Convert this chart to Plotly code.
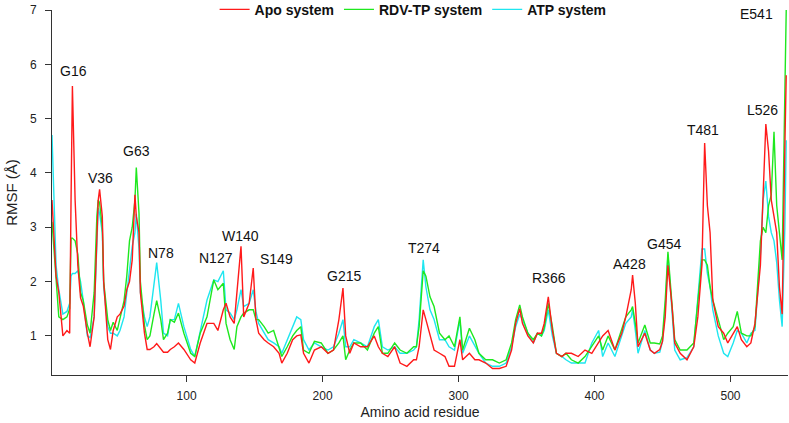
import plotly.graph_objects as go

# Residue numbers at which values were read
residues = [1, 4, 6, 9, 12, 14, 15, 16, 18, 20, 22, 24, 27, 29, 32, 34, 35, 36, 38, 39,
            42, 44, 46, 49, 51, 54, 56, 58, 60, 62, 63, 65, 66, 69, 71, 73, 76, 78, 81, 83,
            86, 88, 91, 94, 98, 103, 106, 110, 115, 120, 123, 127, 129, 132, 135, 137, 140, 142, 146, 149,
            151, 153, 157, 160, 164, 168, 170, 174, 178, 181, 184, 186, 190, 194, 199, 204, 208, 212, 215, 217,
            220, 223, 228, 233, 238, 241, 244, 248, 253, 257, 262, 267, 269, 271, 274, 276, 279, 282, 286, 290,
            293, 297, 301, 303, 308, 312, 315, 320, 325, 330, 335, 339, 342, 345, 347, 351, 355, 358, 361, 363,
            366, 369, 372, 376, 379, 383, 388, 393, 398, 403, 406, 410, 415, 420, 423, 427, 428, 430, 432, 437,
            441, 444, 448, 450, 452, 454, 457, 459, 463, 468, 473, 476, 479, 481, 483, 485, 487, 491, 495, 498,
            502, 505, 508, 512, 515, 518, 522, 524, 526, 528, 530, 532, 534, 536, 538, 540, 541]

apo = [3.5, 2.1, 1.8, 1.0, 1.1, 1.05, 3.5, 5.6, 3.5, 2.3, 1.7, 1.55, 1.05, 0.8, 1.35, 2.9, 3.5, 3.7, 3.2, 2.0,
       0.93, 0.75, 1.1, 1.35, 1.4, 1.55, 1.85, 2.0, 2.4, 3.6, 3.2, 2.9, 1.8, 1.05, 0.75, 0.75, 0.8, 0.86, 0.75, 0.7,
       0.7, 0.75, 0.8, 0.87, 0.75, 0.56, 0.5, 0.87, 1.23, 1.23, 1.1, 1.48, 1.6, 1.35, 1.23, 1.85, 2.65, 1.35, 1.6, 2.25,
       1.3, 1.05, 0.93, 0.87, 0.8, 0.68, 0.5, 0.68, 0.93, 1.0, 1.02, 0.68, 0.5, 0.74, 0.8, 0.68, 0.74, 1.3, 1.88, 1.0,
       0.68, 0.87, 0.8, 0.8, 1.0, 0.8, 0.68, 0.62, 0.8, 0.5, 0.44, 0.56, 0.56, 0.8, 1.48, 1.3, 1.0, 0.74, 0.68, 0.62,
       0.44, 0.44, 0.93, 0.56, 0.68, 0.56, 0.56, 0.5, 0.4, 0.4, 0.44, 0.74, 1.23, 1.5, 1.23, 1.0, 0.87, 1.05, 1.05, 1.23,
       1.72, 1.1, 0.68, 0.62, 0.68, 0.68, 0.62, 0.74, 0.68, 0.87, 1.0, 1.1, 0.74, 1.05, 1.35, 1.85, 2.12, 1.6, 0.8, 1.05,
       0.74, 0.68, 0.75, 0.9, 1.35, 2.3, 1.55, 0.87, 0.68, 0.56, 0.8, 1.35, 2.3, 4.55, 3.4, 2.9, 1.66, 1.17, 1.05, 0.87,
       1.05, 1.17, 0.93, 0.8, 0.87, 1.23, 2.3, 3.8, 4.9, 4.4, 3.5, 3.2, 2.9, 1.9, 1.4, 4.5, 5.8]

rdv_tp = [3.1, 2.0, 1.35, 1.3, 1.35, 1.5, 2.8, 2.8, 2.75, 2.5, 1.8, 1.65, 1.2, 1.05, 1.8, 3.2, 3.5, 3.45, 3.0, 2.0,
          1.3, 1.1, 1.25, 1.1, 1.3, 1.65, 2.1, 2.75, 3.0, 3.5, 4.1, 3.25, 2.0, 1.2, 0.93, 1.0, 1.4, 1.65, 1.3, 0.93,
          1.05, 1.3, 1.25, 1.42, 1.05, 0.68, 0.62, 1.05, 1.35, 2.03, 1.85, 1.97, 1.23, 0.93, 0.75, 1.17, 1.35, 1.42, 1.48, 1.48,
          1.3, 1.3, 1.17, 1.05, 1.1, 0.8, 0.62, 0.8, 1.0, 1.1, 1.17, 0.74, 0.68, 0.9, 0.87, 0.68, 0.74, 0.87, 1.0, 0.56,
          0.74, 0.87, 0.87, 0.74, 1.05, 1.17, 0.68, 0.68, 0.87, 0.74, 0.68, 0.8, 0.8, 1.17, 2.2, 2.1, 1.72, 1.54, 1.05, 0.93,
          1.0, 0.8, 1.35, 0.74, 1.14, 0.93, 0.68, 0.56, 0.56, 0.5, 0.56, 0.87, 1.3, 1.57, 1.35, 1.05, 0.93, 1.05, 1.0, 1.15,
          1.6, 1.17, 0.68, 0.62, 0.68, 0.56, 0.5, 0.62, 0.8, 1.0, 0.74, 1.0, 0.74, 1.1, 1.35, 1.48, 1.54, 1.23, 0.87, 1.2,
          0.87, 0.87, 0.85, 1.0, 1.66, 2.55, 1.66, 0.93, 0.74, 0.74, 0.87, 1.66, 2.4, 2.4, 2.3, 1.9, 1.66, 1.3, 0.93, 1.05,
          1.17, 1.45, 1.05, 1.0, 1.0, 1.17, 2.75, 3.0, 2.9, 3.4, 3.6, 4.76, 3.4, 2.9, 2.4, 5.5, 7.0]

atp = [4.7, 2.3, 1.85, 1.4, 1.45, 1.6, 2.1, 2.15, 2.15, 2.2, 2.0, 1.65, 1.0, 0.97, 1.35, 2.95, 3.35, 3.25, 2.9, 1.9,
       1.17, 1.05, 1.05, 1.0, 1.1, 1.35, 1.8, 2.3, 2.65, 2.9, 3.25, 2.6, 1.8, 1.35, 1.17, 1.35, 1.9, 2.35, 1.65, 1.05,
       1.0, 1.3, 1.3, 1.6, 1.17, 0.75, 0.62, 1.1, 1.66, 2.03, 2.0, 2.2, 1.48, 1.42, 1.3, 1.48, 1.85, 1.54, 1.6, 1.85,
       1.45, 1.23, 1.05, 0.93, 0.87, 0.8, 0.68, 0.93, 1.17, 1.35, 1.3, 0.93, 0.74, 0.87, 0.8, 0.74, 0.8, 1.05, 1.3, 0.8,
       0.8, 0.93, 0.87, 0.8, 1.17, 1.3, 0.8, 0.74, 0.8, 0.68, 0.68, 0.74, 0.8, 1.3, 2.4, 1.9, 1.48, 1.3, 0.93, 0.93,
       0.8, 0.74, 1.3, 0.68, 1.0, 0.8, 0.68, 0.5, 0.44, 0.44, 0.5, 0.8, 1.17, 1.4, 1.3, 1.05, 0.87, 1.05, 1.0, 1.1,
       1.48, 1.0, 0.68, 0.62, 0.56, 0.5, 0.5, 0.5, 0.87, 1.1, 0.62, 0.87, 0.62, 1.0, 1.23, 1.35, 1.48, 1.1, 0.68, 1.1,
       0.74, 0.68, 0.7, 0.9, 1.5, 2.5, 1.4, 0.74, 0.56, 0.6, 0.8, 1.78, 2.6, 2.6, 2.15, 1.9, 1.48, 1.0, 0.68, 0.62,
       0.87, 1.1, 1.05, 0.87, 1.05, 1.1, 2.5, 3.5, 3.85, 3.2, 2.9, 2.75, 2.35, 1.66, 1.17, 3.0, 4.6]

series_names = ["Apo system", "RDV-TP system", "ATP system"]
series_colors = ["#ff1a1a", "#1ee81e", "#1ee6f0"]

label_text = ["G16", "V36", "G63", "N78", "N127", "W140", "S149", "G215", "T274",
              "R366", "A428", "G454", "T481", "L526", "E541"]
label_x = [16.5, 36.4, 63, 81, 121.7, 139.3, 166, 215.8, 274.6, 366.5, 426, 451, 480, 523.7, 519]
label_y = [5.87, 3.9, 4.41, 2.53, 2.43, 2.84, 2.41, 2.1, 2.61, 2.06, 2.33, 2.7, 4.79, 5.16, 6.92]

FONT = "Liberation Sans, Arial, sans-serif"

fig = go.Figure()
# add in reverse so that red is drawn on top
for name, vals, col in list(zip(series_names, [apo, rdv_tp, atp], series_colors))[::-1]:
    fig.add_trace(go.Scatter(x=residues, y=vals, mode="lines", name=name,
                             line=dict(color=col, width=1.4)))

for t, x, y in zip(label_text, label_x, label_y):
    fig.add_annotation(x=x, y=y, text=t, showarrow=False,
                       font=dict(family=FONT, size=14, color="#111"))

fig.update_layout(
    width=789, height=423,
    margin=dict(l=52, r=1, t=10, b=48, autoexpand=False),
    paper_bgcolor="white", plot_bgcolor="white",
    font=dict(family=FONT, color="#222"),
    showlegend=True,
    legend=dict(orientation="h", xref="container", yref="container",
                x=0.272, y=0.977, xanchor="left", yanchor="middle",
                traceorder="reversed",
                font=dict(family=FONT, size=14, color="#111", weight="bold"),
                bgcolor="rgba(0,0,0,0)"),
    xaxis=dict(range=[1, 542.3], showline=True, linecolor="#333", linewidth=1,
               ticks="outside", ticklen=6, tickcolor="#333", automargin=False,
               ticklabelstandoff=4,
               tickvals=[100, 200, 300, 400, 500], showgrid=False, zeroline=False,
               tickfont=dict(size=12, color="#222"),
               title=dict(text="Amino acid residue", font=dict(size=14, color="#222"), standoff=4)),
    yaxis=dict(range=[0.28, 7.0], showline=True, linecolor="#333", linewidth=1,
               ticks="outside", ticklen=6, tickcolor="#333", automargin=False,
               ticklabelstandoff=6,
               tickvals=[1, 2, 3, 4, 5, 6, 7], showgrid=False, zeroline=False,
               tickfont=dict(size=12, color="#222"),
               title=dict(text="RMSF (Å)", font=dict(size=15, color="#222"), standoff=8)),
)

fig.write_html("out.html", config={"displayModeBar": False},
               post_script="document.body.style.margin='0';")
